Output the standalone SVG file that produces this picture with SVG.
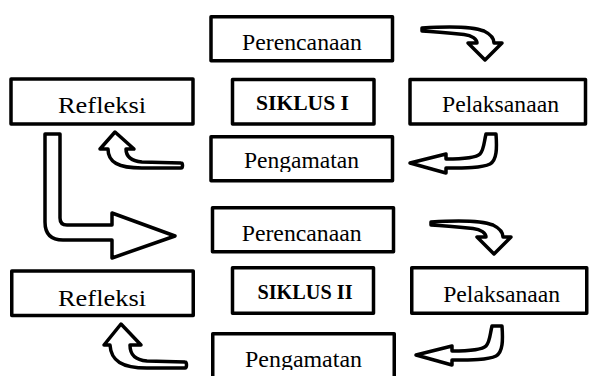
<svg xmlns="http://www.w3.org/2000/svg" xmlns:xlink="http://www.w3.org/1999/xlink" width="590" height="376" viewBox="0 0 590 376">
<style>
.box{fill:#fff;stroke:#000;stroke-width:3.5;stroke-linejoin:round}
.t{font-family:"Liberation Serif","Times New Roman",serif;font-size:24px;fill:#000;text-anchor:middle}
.b{font-weight:bold;font-size:20px}
.arr{fill:#fff;stroke:#000;stroke-width:3.5;stroke-linejoin:round;stroke-linecap:round}
</style>
<defs>
<clipPath id="c1"><rect x="200" y="130" width="200" height="42"/></clipPath>
<clipPath id="c2"><rect x="200" y="325" width="200" height="45"/></clipPath>
<path id="arrA" d="M 422 28 C 445 26.5, 470 25.5, 484 31 C 492 35, 494 40, 494 43 L 502 43 L 485 60 L 468 43 L 477 43 C 477 39, 472 35.5, 464 34.5 C 450 33, 435 31.5, 422 31 Z"/>
<path id="arrB" d="M 486 134 L 496 134 C 497 148, 497 160, 490 164 C 482 168, 465 168, 446 168 L 446 173 L 410 163 L 446 154 L 446 159 C 462 159, 476 158, 480 154 C 484 150, 484 142, 486 134 Z"/>
</defs>
<rect width="590" height="376" fill="#fff"/>

<g id="perencanaan1">
<rect class="box" x="211" y="16.75" width="181.5" height="44"/>
<text class="t" x="302" y="50" textLength="120" lengthAdjust="spacingAndGlyphs">Perencanaan</text>
</g>
<g id="siklus1">
<rect class="box" x="232.5" y="79.5" width="141.5" height="44.5"/>
<text class="t b" x="302.5" y="110" textLength="93" lengthAdjust="spacingAndGlyphs">SIKLUS I</text>
</g>
<g id="pelaksanaan1">
<rect class="box" x="410" y="79.5" width="175.5" height="44.5"/>
<text class="t" x="500.5" y="111.5" textLength="117" lengthAdjust="spacingAndGlyphs">Pelaksanaan</text>
</g>
<g id="pengamatan1">
<rect class="box" x="211" y="136.75" width="181.5" height="44"/>
<text class="t" x="301.5" y="168.3" textLength="115" lengthAdjust="spacingAndGlyphs" clip-path="url(#c1)">Pengamatan</text>
</g>
<g id="refleksi1">
<rect class="box" x="11" y="79" width="182" height="45"/>
<text class="t" x="102" y="113.3" textLength="88" lengthAdjust="spacingAndGlyphs">Refleksi</text>
</g>

<g id="perencanaan2">
<rect class="box" x="212.5" y="207.75" width="181" height="44"/>
<text class="t" x="301.7" y="241" textLength="120" lengthAdjust="spacingAndGlyphs">Perencanaan</text>
</g>
<g id="siklus2">
<rect class="box" x="232.5" y="267.75" width="141" height="45.5"/>
<text class="t b" x="305" y="299" textLength="95" lengthAdjust="spacingAndGlyphs">SIKLUS II</text>
</g>
<g id="pelaksanaan2">
<rect class="box" x="411.75" y="267.75" width="175" height="45.5"/>
<text class="t" x="501.7" y="301.5" textLength="117" lengthAdjust="spacingAndGlyphs">Pelaksanaan</text>
</g>
<g id="refleksi2">
<rect class="box" x="11.75" y="271" width="181.5" height="44.5"/>
<text class="t" x="102" y="306" textLength="88" lengthAdjust="spacingAndGlyphs">Refleksi</text>
</g>
<g id="pengamatan2">
<rect class="box" x="212.75" y="333.75" width="181.5" height="50"/>
<text class="t" x="303.5" y="366.7" textLength="117" lengthAdjust="spacingAndGlyphs" clip-path="url(#c2)">Pengamatan</text>
</g>

<g id="connectors">
<use xlink:href="#arrA" class="arr"/>
<use xlink:href="#arrB" class="arr"/>
<path class="arr" d="M 115 132 L 134 149 L 126 149 C 126 157, 131 161, 142 162 L 181 163 C 183 163, 183 168, 181 168 L 142 168 C 118 168, 108 162, 108 149 L 100 149 Z"/>
<path class="arr" d="M 45 134 L 60 134 L 60 218 Q 60 225 67 225 L 112 225 L 112 213 L 175 236 L 112 258 L 112 240 L 63 240 Q 45 240 45 222 Z"/>
<use xlink:href="#arrA" class="arr" transform="translate(9,194)"/>
<use xlink:href="#arrB" class="arr" transform="translate(6,192)"/>
<path class="arr" d="M 121 324 L 141 345 L 130 345 C 130 355, 135 360, 147 361 L 185 362 C 187 362, 187 368, 185 368 L 147 368 C 122 368, 111 361, 110 345 L 104 345 Z"/>
</g>
</svg>
